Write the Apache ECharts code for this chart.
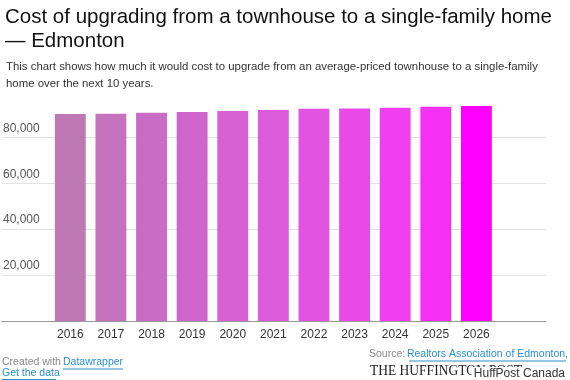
<!DOCTYPE html>
<html>
<head>
<meta charset="utf-8">
<script src="https://cdn.jsdelivr.net/npm/echarts@6/dist/echarts.min.js"></script>
<style>html,body{margin:0;padding:0;background:#fff}#c{width:570px;height:380px}</style>
</head>
<body>
<div id="c"></div>
<script>
const categories = ['2016','2017','2018','2019','2020','2021','2022','2023','2024','2025','2026'];
const values = [90200, 90300, 90700, 91000, 91500, 91900, 92400, 92600, 92900, 93300, 93600];
const barColors = ['#bd78b4','#c472be','#c96cc5','#ce66cb','#d660d4','#dc5bdb','#e353e1','#e94ae7','#f03fee','#f62ff5','#ff00ff'];
const yTicks = [20000, 40000, 60000, 80000];

const chart = echarts.init(document.getElementById('c'), null, {renderer: 'canvas'});
const FONT = '"Liberation Sans", Arial, sans-serif';
const gridTop = 91.4, gridBottom = 59;
chart.setOption({
  animation: false,
  title: [{
    text: 'Cost of upgrading from a townhouse to a single-family home\n— Edmonton',
    left: 0, top: 0,
    textStyle: {fontFamily: FONT, fontSize: 20.5, fontWeight: 'normal', color: '#111', lineHeight: 24}
  }, {
    text: 'This chart shows how much it would cost to upgrade from an average-priced townhouse to a single-family\nhome over the next 10 years.',
    left: 1, top: 53,
    textStyle: {fontFamily: FONT, fontSize: 11.4, fontWeight: 'normal', color: '#333', lineHeight: 17}
  }],
  grid: [
    {left: 2, right: 24, top: gridTop, bottom: gridBottom},
    {left: 50, right: 73.3, top: gridTop, bottom: gridBottom}
  ],
  xAxis: [
    {gridIndex: 0, type: 'value', min: 0, max: 1,
     axisLine: {show: true, onZero: false, lineStyle: {color: '#999', width: 1}},
     axisTick: {show: false}, axisLabel: {show: false}, splitLine: {show: false}},
    {gridIndex: 1, type: 'category', data: categories,
     axisLine: {show: false}, axisTick: {show: false},
     axisLabel: {fontFamily: FONT, fontSize: 12, color: '#333', margin: 8}}
  ],
  yAxis: [
    {gridIndex: 0, type: 'value', min: 0, max: 100000, interval: 20000,
     axisLine: {show: false}, axisTick: {show: false},
     splitLine: {show: true, showMinLine: false, showMaxLine: false, lineStyle: {color: '#e2e2e2', width: 1}},
     axisLabel: {inside: true, showMinLabel: false, showMaxLabel: false, margin: 1,
       fontFamily: FONT, fontSize: 12, color: '#555', verticalAlign: 'bottom', padding: [0,0,3,0],
       formatter: v => yTicks.includes(v) ? v.toLocaleString('en-US') : ''}},
    {gridIndex: 1, type: 'value', min: 0, max: 100000, interval: 20000, show: false}
  ],
  series: [{
    type: 'bar', xAxisIndex: 1, yAxisIndex: 1,
    barCategoryGap: '24%',
    data: values.map((v, i) => ({value: v, itemStyle: {color: barColors[i]}}))
  }],
  graphic: [
    {type: 'text', left: 2, top: 357, style: {text: 'Created with', font: '10.5px ' + FONT, fill: '#888'}},
    {type: 'text', left: 63, top: 357, style: {text: 'Datawrapper', font: '10.5px ' + FONT, fill: '#2a8fd0'}},
    {type: 'line', shape: {x1: 63, y1: 369, x2: 123, y2: 369}, style: {stroke: '#2a8fd0', lineWidth: 1}},
    {type: 'text', left: 2, top: 368, style: {text: 'Get the data', font: '10.5px ' + FONT, fill: '#2a8fd0'}},
    {type: 'line', shape: {x1: 2, y1: 379.5, x2: 56, y2: 379.5}, style: {stroke: '#2a8fd0', lineWidth: 1}},
    {type: 'text', left: 369, top: 349, style: {text: 'Source:', font: '10.5px ' + FONT, fill: '#888'}},
    {type: 'text', right: 2, top: 349, style: {text: 'Realtors Association of Edmonton,', font: '10.5px ' + FONT, fill: '#2a8fd0'}},
    {type: 'line', shape: {x1: 409, y1: 361, x2: 566, y2: 361}, style: {stroke: '#2a8fd0', lineWidth: 1}},
    {type: 'text', x: 370, y: 364, scaleX: 0.9, style: {text: 'THE HUFFINGTON POST', font: '15px "Liberation Serif", "Times New Roman", serif', fill: '#222'}},
    {type: 'text', right: 3, top: 367, z: 100, style: {text: 'HuffPost Canada', font: '12px ' + FONT, fill: '#333', backgroundColor: '#fff', padding: [1, 2, 2, 2]}}
  ]
});
</script>
</body>
</html>
